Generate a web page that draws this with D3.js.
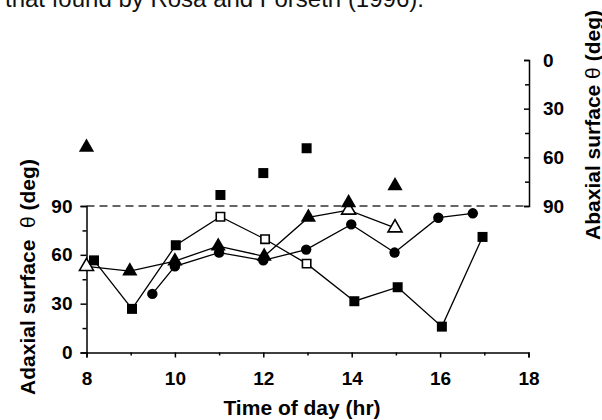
<!DOCTYPE html>
<html>
<head>
<meta charset="utf-8">
<script src="https://cdn.jsdelivr.net/npm/d3@7"></script>
<style>
  body { margin: 0; background: #fff; }
  svg { display: block; font-family: "Liberation Sans", Arial, sans-serif; }
  .tick text { font-size: 19px; font-weight: bold; fill: #000; }
  .axis-title { font-size: 21px; font-weight: bold; fill: #000; }
</style>
</head>
<body>
<div id="wrapper"></div>
<script>
// data: time of day (hr) and leaf surface angle (deg)
const squareHours = [8.17, 9.03, 10.02, 11.03, 12.04, 12.98, 14.06, 15.04, 16.04, 16.96];
const squareDeg = [56.6, 26.8, 65.9, 83.4, 69.6, 54.6, 31.5, 40.1, 15.9, 71.0];
const squareOpen = [false, false, false, true, true, true, false, false, false, false];

const triangleHours = [8.0, 8.98, 10.0, 10.98, 12.02, 13.02, 13.93, 14.98];
const triangleDeg = [52.9, 50.0, 56.2, 65.3, 59.1, 83.0, 87.5, 76.6];
const triangleOpen = [true, false, false, false, false, false, true, true];

const circleHours = [9.49, 10.0, 11.0, 12.0, 12.97, 13.99, 14.97, 15.96, 16.74];
const circleDeg = [36.0, 52.9, 61.4, 56.6, 63.2, 78.7, 61.4, 82.8, 85.5];

// abaxial points, read on the right axis
const abaxSquareHours = [11.03, 12.0, 12.98];
const abaxSquareDeg = [83.2, 69.7, 54.4];
const abaxTriangleHours = [8.0, 13.93, 14.98];
const abaxTriangleDeg = [53.8, 88.0, 77.6];

const xTicks = [8, 10, 12, 14, 16, 18];
const xMinorTicks = [9, 11, 13, 15, 17];
const yTicks = [0, 30, 60, 90];
const yMinorTicks = [15, 45, 75];

function drawChart() {
  const dimensions = {
    width: 602,
    height: 420,
    left: 86.5,
    right: 528.5,
    bottom: 352.5,
    top: 206,
    rightTop: 60,
  };

  const svg = d3
    .select("#wrapper")
    .append("svg")
    .attr("width", dimensions.width)
    .attr("height", dimensions.height);

  // cut-off text line from the page above the figure
  svg
    .append("text")
    .attr("x", 5)
    .attr("y", 7)
    .style("font-size", "24px")
    .style("fill", "#111")
    .text("that found by Rosa and Forseth (1996).");

  const xScale = d3.scaleLinear().domain([8, 18]).range([dimensions.left, dimensions.right]);
  const yScale = d3.scaleLinear().domain([0, 90]).range([dimensions.bottom, dimensions.top]);
  const yRightScale = d3.scaleLinear().domain([0, 90]).range([dimensions.rightTop, dimensions.top]);

  // dashed 90 deg line
  svg
    .append("line")
    .attr("x1", dimensions.left)
    .attr("x2", dimensions.right)
    .attr("y1", yScale(90))
    .attr("y2", yScale(90))
    .attr("stroke", "#333")
    .attr("stroke-width", 1.5)
    .attr("stroke-dasharray", "8,5");

  // axes
  const xAxis = svg
    .append("g")
    .attr("transform", `translate(0,${dimensions.bottom})`)
    .call(d3.axisBottom(xScale).tickValues(xTicks).tickSize(5).tickSizeOuter(5).tickPadding(14));
  svg
    .append("g")
    .attr("transform", `translate(0,${dimensions.bottom})`)
    .call(d3.axisBottom(xScale).tickValues(xMinorTicks).tickSize(3).tickFormat(""))
    .call((g) => g.select(".domain").remove());

  const yAxis = svg
    .append("g")
    .attr("transform", `translate(${dimensions.left},0)`)
    .call(d3.axisLeft(yScale).tickValues(yTicks).tickSize(6).tickSizeOuter(6).tickPadding(8));
  svg
    .append("g")
    .attr("transform", `translate(${dimensions.left},0)`)
    .call(d3.axisLeft(yScale).tickValues(yMinorTicks).tickSize(4).tickFormat(""))
    .call((g) => g.select(".domain").remove());

  const yRightAxis = svg
    .append("g")
    .attr("transform", `translate(${dimensions.right + 0.5},0)`)
    .call(d3.axisRight(yRightScale).tickValues(yTicks).tickSize(-5).tickSizeOuter(-5).tickPadding(14));
  svg
    .append("g")
    .attr("transform", `translate(${dimensions.right + 0.5},0)`)
    .call(d3.axisRight(yRightScale).tickValues(yMinorTicks).tickSize(-4).tickFormat(""))
    .call((g) => g.select(".domain").remove());

  svg.selectAll(".domain, .tick line").attr("stroke", "#000").attr("stroke-width", 1.5);
  svg.selectAll(".tick text").attr("font-family", null).attr("font-size", null);

  // axis titles
  svg
    .append("text")
    .attr("class", "axis-title")
    .attr("x", 302)
    .attr("y", 415)
    .attr("text-anchor", "middle")
    .text("Time of day (hr)");

  const thetaLabel = (sel, name, gap) => {
    sel.append("tspan").text(name + gap);
    sel.append("tspan").style("font-weight", "normal").text("θ");
    sel.append("tspan").text(" (deg)");
  };

  svg
    .append("text")
    .attr("class", "axis-title")
    .attr("transform", "translate(35,277) rotate(-90)")
    .attr("text-anchor", "middle")
    .call(thetaLabel, "Adaxial surface", "\u00a0 ");

  svg
    .append("text")
    .attr("class", "axis-title")
    .attr("transform", "translate(600,125) rotate(-90)")
    .attr("text-anchor", "middle")
    .call(thetaLabel, "Abaxial surface", " ");

  // series lines
  const line = d3.line().x((d) => xScale(d[0])).y((d) => yScale(d[1]));
  const series = [
    d3.zip(squareHours, squareDeg),
    d3.zip(triangleHours, triangleDeg),
    d3.zip(circleHours, circleDeg),
  ];
  svg
    .selectAll(".series")
    .data(series)
    .join("path")
    .attr("class", "series")
    .attr("d", line)
    .attr("fill", "none")
    .attr("stroke", "#000")
    .attr("stroke-width", 1.3);

  // markers
  const shapes = {
    square: d3.symbol(d3.symbolSquare, 100),
    openSquare: d3.symbol(d3.symbolSquare, 70),
    triangle: d3.symbol(d3.symbolTriangle, 100),
    openTriangle: d3.symbol(d3.symbolTriangle, 85),
    circle: d3.symbol(d3.symbolCircle, 85),
  };

  const markers = [];
  squareHours.forEach((h, i) =>
    markers.push({ x: h, y: yScale(squareDeg[i]), shape: squareOpen[i] ? "openSquare" : "square", open: squareOpen[i] })
  );
  triangleHours.forEach((h, i) =>
    markers.push({ x: h, y: yScale(triangleDeg[i]), shape: triangleOpen[i] ? "openTriangle" : "triangle", open: triangleOpen[i] })
  );
  circleHours.forEach((h, i) => markers.push({ x: h, y: yScale(circleDeg[i]), shape: "circle", open: false }));
  abaxSquareHours.forEach((h, i) => markers.push({ x: h, y: yRightScale(abaxSquareDeg[i]), shape: "square", open: false }));
  abaxTriangleHours.forEach((h, i) =>
    markers.push({ x: h, y: yRightScale(abaxTriangleDeg[i]), shape: "triangle", open: false })
  );

  svg
    .selectAll(".marker")
    .data(markers)
    .join("path")
    .attr("class", "marker")
    .attr("transform", (d) => `translate(${xScale(d.x)},${d.y})`)
    .attr("d", (d) => shapes[d.shape]())
    .attr("fill", (d) => (d.open ? "#fff" : "#000"))
    .attr("stroke", "#000")
    .attr("stroke-width", (d) => (d.open ? 1.6 : 0));
}

drawChart();
</script>
</body>
</html>
